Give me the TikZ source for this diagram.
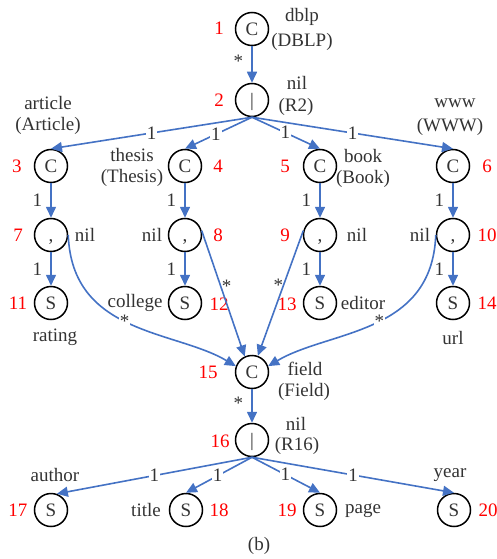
\documentclass[tikz,border=0pt]{standalone}
\usepackage{fontspec}
\setmainfont{Liberation Serif}
\usetikzlibrary{arrows.meta}
\definecolor{eblue}{HTML}{4472C4}
\definecolor{tgray}{HTML}{333333}
\begin{document}
\begin{tikzpicture}[x=1pt,y=-1pt,font=\fontsize{19}{21}\selectfont,
  st/.style={circle,draw=black,line width=1.5pt,minimum size=33pt,inner sep=0pt,text height=12.5pt,text depth=0pt,text=tgray},
  num/.style={text=red,inner sep=0pt},
  txt/.style={text=tgray,inner sep=0pt},
  edge/.style={draw=eblue,line width=1.6pt,-{Triangle[length=11pt,width=10pt]}},
  el/.style={fill=white,inner sep=1pt,text=tgray},
  sl/.style={inner sep=0pt,text=tgray},
  vl/.style={left=8pt,inner sep=0pt,text=tgray}]
\useasboundingbox (0,0) rectangle (497,559);
% main nodes
\node[st] (n1) at (252,29) {C};
\node[st] (n2) at (252,100) {|};
\node[st] (n3) at (51,166) {C};
\node[st] (n4) at (185,166) {C};
\node[st] (n5) at (320,166) {C};
\node[st] (n6) at (453,166) {C};
\node[st] (n7) at (51,235) {,};
\node[st] (n8) at (185,235) {,};
\node[st] (n9) at (320,235) {,};
\node[st] (n10) at (453,235) {,};
\node[st] (n11) at (51,303) {S};
\node[st] (n12) at (185,303) {S};
\node[st] (n13) at (320,303) {S};
\node[st] (n14) at (453,303) {S};
\node[st] (n15) at (252,372) {C};
\node[st] (n16) at (252,440) {|};
\node[st] (n17) at (51,510) {S};
\node[st] (n18) at (186,510) {S};
\node[st] (n19) at (320,510) {S};
\node[st] (n20) at (454,510) {S};
% red numbers
\node[num] (r1) at (219,28) {1};
\node[num] (r2) at (219,100) {2};
\node[num] (r3) at (17,166) {3};
\node[num] (r4) at (218,166) {4};
\node[num] (r5) at (285,166) {5};
\node[num] (r6) at (487,166) {6};
\node[num] (r7) at (18,235) {7};
\node[num] (r8) at (218,235) {8};
\node[num] (r9) at (285,235) {9};
\node[num] (r10) at (487,235) {10};
\node[num] (r11) at (18,303) {11};
\node[num] (r12) at (219,304) {12};
\node[num] (r13) at (287,304) {13};
\node[num] (r14) at (487,303) {14};
\node[num] (r15) at (208,372) {15};
\node[num] (r16) at (220,441) {16};
\node[num] (r17) at (18,510) {17};
\node[num] (r18) at (219,510) {18};
\node[num] (r19) at (287,510) {19};
\node[num] (r20) at (488,510) {20};
% texts
\node[txt] (t1a) at (302,17) {dblp};
\node[txt] (t1b) at (302,42) {(DBLP)};
\node[txt] (t2a) at (297,83) {nil};
\node[txt] (t2b) at (296,107) {(R2)};
\node[txt] (t3a) at (48,103) {article};
\node[txt] (t3b) at (48,126) {(Article)};
\node[txt] (t4a) at (132,155) {thesis};
\node[txt] (t4b) at (132,178) {(Thesis)};
\node[txt] (t5a) at (363,156) {book};
\node[txt] (t5b) at (363,179) {(Book)};
\node[txt] (t6a) at (455,103) {www};
\node[txt] (t6b) at (450,127) {(WWW)};
\node[txt] (t7) at (85,235) {nil};
\node[txt] (t8) at (152,235) {nil};
\node[txt] (t9) at (357,235) {nil};
\node[txt] (t10) at (420,235) {nil};
\node[txt] (t11) at (55,337) {rating};
\node[txt] (t12) at (135,303) {college};
\node[txt] (t13) at (363,303) {editor};
\node[txt] (t14) at (453,338) {url};
\node[txt] (t15a) at (305,369) {field};
\node[txt] (t15b) at (304,392) {(Field)};
\node[txt] (t16a) at (296,424) {nil};
\node[txt] (t16b) at (297,446) {(R16)};
\node[txt] (t17) at (55,475) {author};
\node[txt] (t18) at (146,510) {title};
\node[txt] (t19) at (363,511) {page};
\node[txt] (t20) at (450,475) {year};
\node[txt] (cap) at (259,546) {(b)};
% edges
\draw[edge] (n1) -- node[vl,left=0pt,pos=0.42]{*} (n2);
\draw[edge] (n2.south) -- node[el,pos=0.5]{1} (n3.north);
\draw[edge] (n2.south) -- node[el,pos=0.54]{1} (n4.north);
\draw[edge] (n2.south) -- node[el,pos=0.49]{1} (n5.north);
\draw[edge] (n2.south) -- node[el,pos=0.5]{1} (n6.north);
\draw[edge] (n3) -- node[vl]{1} (n7);
\draw[edge] (n4) -- node[vl]{1} (n8);
\draw[edge] (n5) -- node[vl]{1} (n9);
\draw[edge] (n6) -- node[vl]{1} (n10);
\draw[edge] (n7) -- node[vl]{1} (n11);
\draw[edge] (n8) -- node[vl]{1} (n12);
\draw[edge] (n9) -- node[vl]{1} (n13);
\draw[edge] (n10) -- node[vl]{1} (n14);
\draw[edge] (n7.east) .. controls (72,335) and (175,330) .. node[el,pos=0.47]{*} (n15.160);
\draw[edge] (n8.15) -- node[sl,pos=0.44,xshift=6pt]{*} (n15.115);
\draw[edge] (n9.165) -- node[sl,pos=0.44,xshift=-5pt]{*} (n15.70);
\draw[edge] (n10.west) .. controls (432,335) and (329,330) .. node[el,pos=0.47]{*} (n15.20);
\draw[edge] (n15) -- node[vl,left=0pt,pos=0.42]{*} (n16);
\draw[edge] (n16.south) -- node[el,pos=0.5]{1} (n17.70);
\draw[edge] (n16.south) -- node[el,pos=0.52]{1} (n18.north);
\draw[edge] (n16.south) -- node[el,pos=0.49]{1} (n19.north);
\draw[edge] (n16.south) -- node[el,pos=0.5]{1} (n20.north);
\end{tikzpicture}
\end{document}
